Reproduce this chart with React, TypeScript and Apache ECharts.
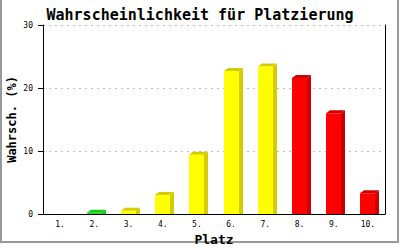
import React, { useEffect, useRef } from "react";
import * as echarts from "echarts";

const categories = ["1.", "2.", "3.", "4.", "5.", "6.", "7.", "8.", "9.", "10."];
const values = [0, 0.2, 0.5, 3.0, 9.4, 22.7, 23.4, 21.6, 16.0, 3.3];
const groups = ["none", "green", "yellow", "yellow", "yellow", "yellow", "yellow", "red", "red", "red"];
const yTicks = [0, 10, 20, 30];

const palette: Record<string, { front: string; side: string }> = {
  none: { front: "#ffffff", side: "#ffffff" },
  green: { front: "#22dd22", side: "#11cc11" },
  yellow: { front: "#ffff00", side: "#d4cc00" },
  red: { front: "#ff0000", side: "#cc0000" },
};

const FONT = "'DejaVu Sans Mono', monospace";

export default function App() {
  const ref = useRef<HTMLDivElement>(null);
  useEffect(() => {
    const chart = echarts.init(ref.current!, null, { renderer: "svg" });
    chart.setOption({
      animation: false,
      backgroundColor: "#ffffff",
      title: {
        text: "Wahrscheinlichkeit für Platzierung",
        left: "center",
        top: 2,
        textStyle: { fontFamily: FONT, fontSize: 15, fontWeight: "bold", color: "#000" },
      },
      grid: { left: 43, right: 15, top: 25, bottom: 36, containLabel: false, outerBoundsMode: "none" },
      xAxis: {
        type: "category",
        data: categories,
        name: "Platz",
        nameLocation: "middle",
        nameGap: 19,
        nameMoveOverlap: false,
        nameTextStyle: { fontFamily: FONT, fontSize: 13, fontWeight: "bold", color: "#000" },
        axisLine: { show: true, lineStyle: { color: "#000", width: 1 } },
        axisTick: { show: false },
        axisLabel: { fontFamily: FONT, fontSize: 8, color: "#000", margin: 6 },
        splitLine: { show: false },
      },
      yAxis: [
        {
          type: "value",
          min: yTicks[0],
          max: yTicks[yTicks.length - 1],
          interval: 10,
          name: "Wahrsch. (%)",
          nameLocation: "middle",
          nameGap: 25,
          nameMoveOverlap: false,
          nameTextStyle: { fontFamily: FONT, fontSize: 12, fontWeight: "bold", color: "#000" },
          axisLine: { show: true, lineStyle: { color: "#000", width: 1 } },
          axisTick: { show: true, length: 5, lineStyle: { color: "#000" } },
          axisLabel: { fontFamily: FONT, fontSize: 8, color: "#000", margin: 10 },
          splitLine: { show: true, lineStyle: { color: "#bbbbbb", type: [2, 4], width: 1 } },
        },
        {
          type: "value",
          position: "right",
          min: yTicks[0],
          max: yTicks[yTicks.length - 1],
          interval: 10,
          axisLine: { show: true, lineStyle: { color: "#000", width: 1 } },
          axisTick: { show: false },
          axisLabel: { show: false },
          splitLine: { show: false },
        },
      ],
      series: [
        {
          type: "custom",
          data: values.map((v, i) => [i, v]),
          renderItem: (params: any, api: any) => {
            const i = api.value(0);
            const v = api.value(1);
            if (!(v > 0)) return { type: "group", children: [] };
            const top = api.coord([i, v]);
            const base = api.coord([i, 0]);
            const w = 15, dx = 4, dy = 3;
            const x0 = Math.round(top[0] - w / 2);
            const x1 = x0 + w;
            const yT = top[1];
            const yB = base[1];
            const c = palette[groups[i]];
            return {
              type: "group",
              children: [
                {
                  type: "polygon",
                  shape: { points: [[x1, yB], [x1, yT], [x1 + dx, yT - dy], [x1 + dx, yB]] },
                  style: { fill: c.side },
                },
                {
                  type: "polygon",
                  shape: { points: [[x0, yT], [x0 + dx, yT - dy], [x1 + dx, yT - dy], [x1, yT]] },
                  style: { fill: c.side },
                },
                {
                  type: "rect",
                  shape: { x: x0, y: yT, width: w, height: yB - yT },
                  style: { fill: c.front },
                },
              ],
            };
          },
        },
      ],
      graphic: [
        {
          type: "rect",
          shape: { x: 1, y: -5, width: 397, height: 247 },
          style: { fill: "none", stroke: "#999999", lineWidth: 2 },
          silent: true,
        },
      ],
    });
    return () => chart.dispose();
  }, []);
  return (
    <div
      ref={ref}
      style={{ position: "fixed", left: 0, top: 0, width: 400, height: 250 }}
    />
  );
}
